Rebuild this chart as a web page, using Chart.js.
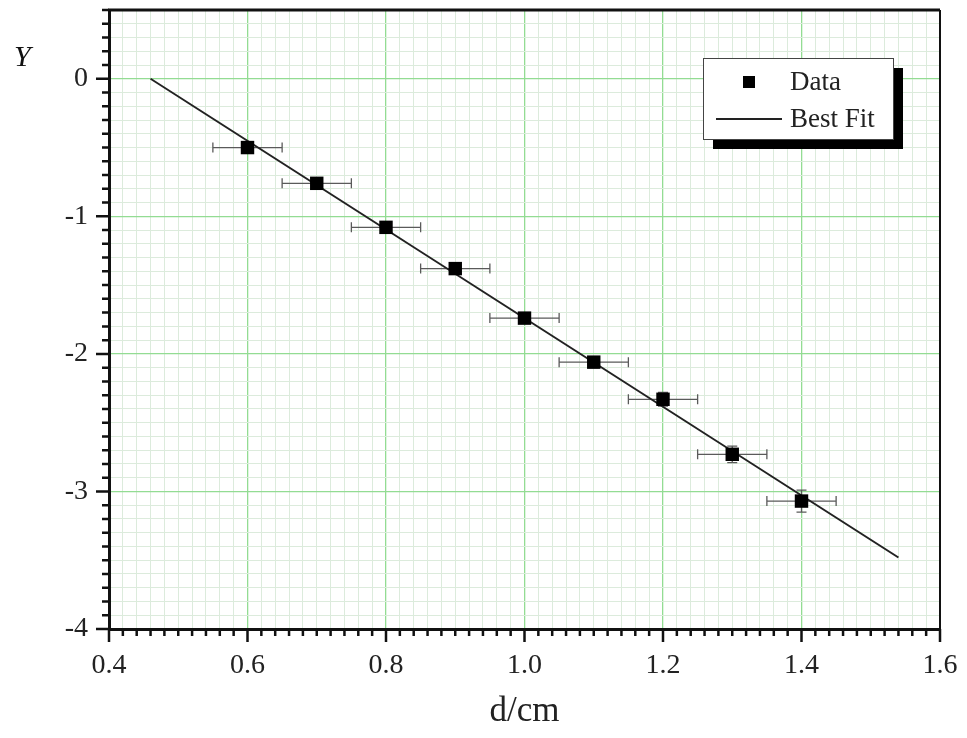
<!DOCTYPE html>
<html>
<head>
<meta charset="utf-8">
<script src="https://cdn.jsdelivr.net/npm/chart.js@4/dist/chart.umd.min.js"></script>
<style>
  html, body { margin: 0; padding: 0; background: #fff; }
  #wrap { width: 967px; height: 738px; position: relative; }
</style>
</head>
<body>
<div id="wrap"><canvas id="c" width="967" height="738"></canvas></div>
<script>
// Measured distances and the derived Y values
const dValues = [0.6, 0.7, 0.8, 0.9, 1.0, 1.1, 1.2, 1.3, 1.4];
const yValues = [-0.50, -0.76, -1.08, -1.38, -1.74, -2.06, -2.33, -2.73, -3.07];
const dErrors = [0.05, 0.05, 0.05, 0.05, 0.05, 0.05, 0.05, 0.05, 0.05];
const yErrors = [0.02, 0.02, 0.03, 0.03, 0.03, 0.04, 0.05, 0.06, 0.08];

// Straight-line fit, drawn between its two end points
const fitD = [0.46, 1.54];
const fitY = [0.0, -3.48];

const seriesLabels = ['Data', 'Best Fit'];
const xTitle = 'd/cm';
const yTitle = 'Y';

const SERIF = '"Liberation Serif", "Times New Roman", serif';
const MAJOR_GRID = '#93dc93';
const MINOR_GRID = '#dcebdc';

function isMultiple(v, step) {
  const r = v / step;
  return Math.abs(r - Math.round(r)) < 1e-6;
}

// Horizontal and vertical error bars with end caps
const errorBars = {
  id: 'errorBars',
  beforeDatasetsDraw(chart) {
    const {ctx, scales: {x, y}} = chart;
    ctx.save();
    ctx.strokeStyle = '#5a5a5a';
    ctx.lineWidth = 1.3;
    const cap = 5;
    dValues.forEach((d, i) => {
      const px = x.getPixelForValue(d);
      const py = y.getPixelForValue(yValues[i]);
      const x0 = x.getPixelForValue(d - dErrors[i]);
      const x1 = x.getPixelForValue(d + dErrors[i]);
      const y0 = y.getPixelForValue(yValues[i] + yErrors[i]);
      const y1 = y.getPixelForValue(yValues[i] - yErrors[i]);
      ctx.beginPath();
      ctx.moveTo(x0, py); ctx.lineTo(x1, py);
      ctx.moveTo(x0, py - cap); ctx.lineTo(x0, py + cap);
      ctx.moveTo(x1, py - cap); ctx.lineTo(x1, py + cap);
      ctx.moveTo(px, y0); ctx.lineTo(px, y1);
      ctx.moveTo(px - cap, y0); ctx.lineTo(px + cap, y0);
      ctx.moveTo(px - cap, y1); ctx.lineTo(px + cap, y1);
      ctx.stroke();
    });
    ctx.restore();
  }
};

// Frame, outward tick marks, Y label and the boxed legend
const frame = {
  id: 'frame',
  afterDraw(chart) {
    const {ctx, chartArea: a, scales: {x, y}} = chart;
    ctx.save();
    ctx.strokeStyle = '#111';
    // top and right edges of the frame
    ctx.lineWidth = 3;
    ctx.beginPath();
    ctx.moveTo(a.left - 1, a.top); ctx.lineTo(a.right, a.top);
    ctx.stroke();
    ctx.lineWidth = 2;
    ctx.beginPath();
    ctx.moveTo(a.right, a.top); ctx.lineTo(a.right, a.bottom);
    ctx.stroke();

    // tick marks
    ctx.lineWidth = 2.5;
    ctx.beginPath();
    x.ticks.forEach(t => {
      const px = x.getPixelForValue(t.value);
      const len = isMultiple(t.value, 0.2) ? 13 : 7;
      ctx.moveTo(px, a.bottom); ctx.lineTo(px, a.bottom + len);
    });
    y.ticks.forEach(t => {
      const py = y.getPixelForValue(t.value);
      const len = isMultiple(t.value, 1) ? 13 : 7;
      ctx.moveTo(a.left, py); ctx.lineTo(a.left - len, py);
    });
    ctx.stroke();

    // Y label
    ctx.fillStyle = '#111';
    ctx.font = 'italic 30px ' + SERIF;
    ctx.textAlign = 'left';
    ctx.textBaseline = 'middle';
    ctx.fillText(yTitle, 14, 58);

    // legend with drop shadow
    const L = 703, T = 58, W = 190, H = 81, S = 10;
    ctx.fillStyle = '#000';
    ctx.fillRect(L + S, T + S, W, H);
    ctx.fillStyle = '#fff';
    ctx.fillRect(L, T, W, H);
    ctx.lineWidth = 1;
    ctx.strokeStyle = '#444';
    ctx.strokeRect(L + 0.5, T + 0.5, W, H);

    ctx.fillStyle = '#000';
    ctx.fillRect(743, 76, 12, 12);
    ctx.strokeStyle = '#222';
    ctx.lineWidth = 2;
    ctx.beginPath();
    ctx.moveTo(716, 119); ctx.lineTo(782, 119);
    ctx.stroke();

    ctx.fillStyle = '#222';
    ctx.font = '27px ' + SERIF;
    ctx.textAlign = 'left';
    ctx.textBaseline = 'middle';
    ctx.fillText(seriesLabels[0], 790, 83);
    ctx.fillText(seriesLabels[1], 790, 120);
    ctx.restore();
  }
};

new Chart(document.getElementById('c'), {
  type: 'scatter',
  data: {
    datasets: [
      {
        label: seriesLabels[1],
        type: 'line',
        data: fitD.map((d, i) => ({x: d, y: fitY[i]})),
        borderColor: '#222',
        borderWidth: 2,
        pointRadius: 0,
        fill: false,
        order: 2
      },
      {
        label: seriesLabels[0],
        data: dValues.map((d, i) => ({x: d, y: yValues[i]})),
        pointStyle: 'rect',
        pointRadius: 9.5,
        backgroundColor: '#000',
        borderColor: '#000',
        borderWidth: 0,
        showLine: false,
        order: 1
      }
    ]
  },
  options: {
    responsive: false,
    animation: false,
    layout: { padding: { left: 0, top: 10, right: 27, bottom: 0 } },
    plugins: {
      legend: { display: false },
      tooltip: { enabled: false }
    },
    scales: {
      x: {
        type: 'linear',
        min: 0.4,
        max: 1.6,
        afterFit(s) { s.height = 109; s.paddingLeft = 0; s.paddingRight = 0; },
        ticks: {
          stepSize: 0.02,
          autoSkip: false,
          maxRotation: 0,
          padding: 20,
          color: '#222',
          font: { family: SERIF, size: 28 },
          callback: v => isMultiple(v, 0.2) ? v.toFixed(1) : ''
        },
        grid: {
          drawTicks: false,
          lineWidth: ctx => isMultiple(ctx.tick.value, 0.2) ? 1.3 : 1,
          color: ctx => isMultiple(ctx.tick.value, 0.2) ? MAJOR_GRID : MINOR_GRID
        },
        border: { color: '#111', width: 3 },
        title: {
          display: true,
          text: xTitle,
          color: '#222',
          font: { family: SERIF, size: 35 },
          padding: { top: 0, bottom: 5 }
        }
      },
      y: {
        type: 'linear',
        min: -4,
        max: 0.5,
        afterFit(s) { s.width = 109; s.paddingTop = 0; s.paddingBottom = 0; },
        ticks: {
          stepSize: 0.1,
          autoSkip: false,
          padding: 21,
          color: '#222',
          font: { family: SERIF, size: 28 },
          callback: v => isMultiple(v, 1) ? String(Math.round(v)) : ''
        },
        grid: {
          drawTicks: false,
          lineWidth: ctx => isMultiple(ctx.tick.value, 1) ? 1.3 : 1,
          color: ctx => isMultiple(ctx.tick.value, 1) ? MAJOR_GRID : MINOR_GRID
        },
        border: { color: '#111', width: 3 }
      }
    }
  },
  plugins: [errorBars, frame]
});
</script>
</body>
</html>
